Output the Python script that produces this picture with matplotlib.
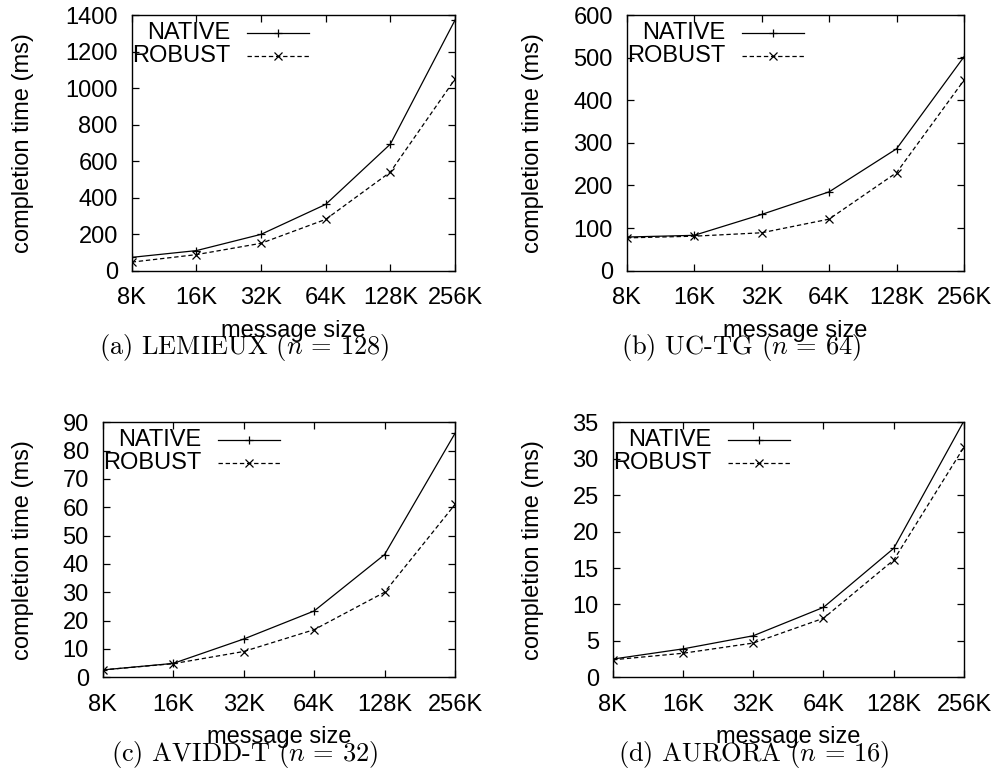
import numpy as np
import matplotlib
matplotlib.use("Agg")
import matplotlib.pyplot as plt
from matplotlib.lines import Line2D
from matplotlib.transforms import ScaledTranslation

plt.rcParams['font.family'] = ['Liberation Sans', 'DejaVu Sans']
plt.rcParams['mathtext.fontset'] = 'cm'

sizes = [8, 16, 32, 64, 128, 256]
size_labels = ["8K", "16K", "32K", "64K", "128K", "256K"]

lemieux_native = [73, 110, 199, 363, 693, 1372]
lemieux_robust = [47, 88, 150, 281, 540, 1049]
uctg_native = [79, 83, 132, 185, 286, 502]
uctg_robust = [77, 81, 89, 121, 230, 447]
avidd_native = [2.6, 4.9, 13.5, 23.4, 43.3, 86.1]
avidd_robust = [2.6, 4.8, 9.1, 16.8, 30.0, 61.0]
aurora_native = [2.5, 3.9, 5.7, 9.6, 17.7, 35.2]
aurora_robust = [2.4, 3.3, 4.7, 8.1, 16.1, 31.6]

panels = [
    dict(native=lemieux_native, robust=lemieux_robust, ymax=1400, ystep=200,
         caption=r"(a) LEMIEUX ($n$ = 128)", box=(131.7, 15, 455, 270.7), ylab_x=23, cap_x=244),
    dict(native=uctg_native, robust=uctg_robust, ymax=600, ystep=100,
         caption=r"(b) UC-TG ($n$ = 64)", box=(626.7, 15, 964, 270.7), ylab_x=533, cap_x=741),
    dict(native=avidd_native, robust=avidd_robust, ymax=90, ystep=10,
         caption=r"(c) AVIDD-T ($n$ = 32)", box=(102.7, 422.3, 455, 677.3), ylab_x=23, cap_x=245),
    dict(native=aurora_native, robust=aurora_robust, ymax=35, ystep=5,
         caption=r"(d) AURORA ($n$ = 16)", box=(612.7, 422.3, 964, 677.3), ylab_x=533, cap_x=754),
]

W, H = 995, 772
fig = plt.figure(figsize=(W / 100, H / 100), dpi=100)

FS = 17
dash = (3.5, 2.2)

for p in panels:
    x0, y0, x1, y1 = p['box']
    ax = fig.add_axes([x0 / W, 1 - y1 / H, (x1 - x0) / W, (y1 - y0) / H])
    ax.plot(sizes, p['native'], color='black', lw=0.9, marker='+', ms=6, mew=0.9)
    ax.plot(sizes, p['robust'], color='black', lw=0.9, ls=(0, dash), marker='x', ms=5.5, mew=0.9)
    ax.set_xscale('log', base=2)
    ax.set_xlim(sizes[0], sizes[-1])
    ax.set_ylim(0, p['ymax'])
    ax.set_xticks(sizes)
    ax.set_xticklabels(size_labels)
    ax.minorticks_off()
    yt = np.arange(0, p['ymax'] + 0.001, p['ystep'])
    ax.set_yticks(yt)
    ax.set_yticklabels([f"{int(v)}" for v in yt])
    ax.tick_params(axis='both', which='both', direction='in', length=5, width=0.9,
                   top=True, right=True, labelsize=FS, colors='black')
    ax.tick_params(axis='x', pad=12)
    ax.tick_params(axis='y', pad=10)
    for s in ax.spines.values():
        s.set_linewidth(1.0)

    # legend (gnuplot style: text right-aligned, sample to the right)
    for i, (lab, ls, mk) in enumerate([("NATIVE", '-', '+'), ("ROBUST", (0, dash), 'x')]):
        dy = [18, 41][i]
        tr_text = ax.transAxes + ScaledTranslation(98.5 / 100, -dy / 100, fig.dpi_scale_trans)
        ax.text(0, 1, lab, transform=tr_text, ha='right', va='center', fontsize=FS)
        fig.add_artist(Line2D([(x0 + 115) / W, (x0 + 177.5) / W], [1 - (y0 + dy) / H] * 2,
                              color='black', lw=0.9, ls=ls, transform=fig.transFigure))
        fig.add_artist(Line2D([(x0 + 146.5) / W], [1 - (y0 + dy) / H], color='black', lw=0,
                              marker=mk, ms=6 if mk == '+' else 5.5, mew=0.9,
                              transform=fig.transFigure))

    fig.text(p['ylab_x'] / W, 1 - ((y0 + y1) / 2) / H, "completion time (ms)", rotation=90,
             ha='center', va='center', fontsize=FS)
    fig.text(((x0 + x1) / 2) / W, 1 - (y1 + 60) / H, "message size", ha='center', va='center',
             fontsize=FS)
    fig.text(p['cap_x'] / W, 1 - (y1 + 77) / H, p['caption'], ha='center', va='center',
             fontsize=19, family='cmr10')

fig.savefig("out.png", dpi=100)
